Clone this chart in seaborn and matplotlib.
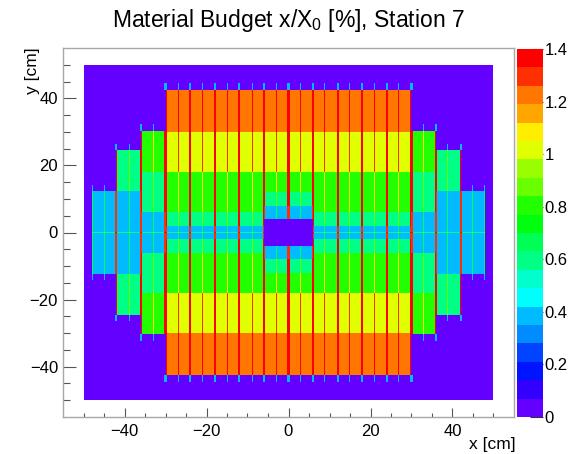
import numpy as np
import pandas as pd
import matplotlib
matplotlib.use('Agg')
import matplotlib.pyplot as plt
import seaborn as sns
from matplotlib.colors import ListedColormap

# ladders of station 7, 6 cm wide, given by their left edge (cm)
ladder_x = [-48, -42, -36, -30, -24, -18, -12, -6, 0, 6, 12, 18, 24, 30, 36, 42]
ladder_kind = ['A', 'B', 'C', 'D', 'D', 'D', 'D', 'E', 'E', 'D', 'D', 'D', 'D', 'C', 'B', 'A']

# sensor bands of each ladder kind: y edges bottom->top (cm) and x/X0 [%] per band
band_y = {
    'A': [-12.25, 12.25],
    'B': [-24.5, -12.25, 12.25, 24.5],
    'C': [-30.25, -18, -6, 6, 18, 30.25],
    'D': [-42.5, -30, -18, -6, -2, 2, 6, 18, 30, 42.5],
    'E': [-42.5, -30, -18, -12, -8, -4, 4, 8, 12, 18, 30, 42.5],
}
band_val = {
    'A': [0.38],
    'B': [0.60, 0.38, 0.60],
    'C': [0.80, 0.60, 0.38, 0.60, 0.80],
    'D': [1.22, 1.00, 0.80, 0.60, 0.38, 0.60, 0.80, 1.00, 1.22],
    'E': [1.22, 1.00, 0.80, 0.60, 0.38, 0.00, 0.38, 0.60, 0.80, 1.00, 1.22],
}

# ladder overlaps (strong lines) and sensor middles (weak lines)
strong_x = [-42, -36, -30, -24, -18, -12, -6, 0, 6, 12, 18, 24, 30, 36, 42]
weak_x = [-48, -45, -39, -33, -27, -21, -15, -9, -3, 3, 9, 15, 21, 27, 33, 39, 45, 48]
strong_add = 0.9
weak_add = 0.3
mid_add = 0.2     # faint line along y = 0
tip_val = 0.4     # line ends sticking out of the sensors
tip_len = 2.0

hist_range = 50
axis_range = 55
bin_w = 0.25
z_max = 1.4

cbar_ticks = [0, 0.2, 0.4, 0.6, 0.8, 1.0, 1.2, 1.4]
cbar_labels = ['0', '0.2', '0.4', '0.6', '0.8', '1', '1.2', '1.4']
axis_ticks = [-40, -20, 0, 20, 40]
minor_ticks = [-50, -45, -35, -30, -25, -15, -10, -5, 5, 10, 15, 25, 30, 35, 45, 50]

# ROOT "pretty" palette, 20 contour levels
palette = ['#6300FF', '#3300FF', '#0014FF', '#0044FF', '#008BFF', '#00BBFF', '#00FFFC',
           '#00FFCC', '#00FF85', '#00FF55', '#00FF0E', '#22FF00', '#69FF00', '#99FF00',
           '#E0FF00', '#FFEE00', '#FFA700', '#FF7700', '#FF3000', '#FF0000']

# build the 2D histogram
edges = np.arange(-axis_range, axis_range + bin_w / 2, bin_w)
xc = (edges[:-1] + edges[1:]) / 2
yc = xc[::-1]
X, Y = np.meshgrid(xc, yc)

Z = np.full(X.shape, np.nan)
Z[(np.abs(X) < hist_range) & (np.abs(Y) < hist_range)] = 0.0

for x0, kind in zip(ladder_x, ladder_kind):
    in_x = (X >= x0) & (X < x0 + 6)
    ys = band_y[kind]
    for lo, hi, v in zip(ys[:-1], ys[1:], band_val[kind]):
        Z[in_x & (Y >= lo) & (Y < hi)] = v

base = Z.copy()


def top_of(x):
    tops = [band_y[k][-1] for x0, k in zip(ladder_x, ladder_kind) if x0 - 0.01 <= x <= x0 + 6.01]
    return max(tops)


for x0 in strong_x + weak_x:
    if x0 in strong_x:
        on_x = np.abs(X - x0) < 0.3
        add = strong_add
    else:
        on_x = np.abs(X - (x0 - np.sign(x0) * 0.125)) < 0.1
        add = weak_add
    top = top_of(x0)
    Z[on_x & (base > 0)] += add
    tip = on_x & (base == 0) & (np.abs(Y) >= top) & (np.abs(Y) < top + tip_len)
    Z[tip] = tip_val

Z[(np.abs(Y) < 0.3) & (base > 0)] += mid_add
Z = np.minimum(Z, z_max - 0.01)

df = pd.DataFrame(Z, index=np.round(yc, 3), columns=np.round(xc, 3))

sns.set_style('white')
plt.rcParams['font.family'] = ['Liberation Sans', 'DejaVu Sans']
plt.rcParams['mathtext.fontset'] = 'custom'
plt.rcParams['mathtext.rm'] = 'Liberation Sans'
plt.rcParams['text.color'] = 'black'

W, H = 577, 454
fig = plt.figure(figsize=(W / 100, H / 100), dpi=100)
ax = fig.add_axes([63 / W, 37 / H, 451 / W, 369 / H])
cax = fig.add_axes([517 / W, 37 / H, 26 / W, 368 / H])

sns.heatmap(df, ax=ax, cbar_ax=cax, cmap=ListedColormap(palette), vmin=0, vmax=z_max,
            xticklabels=False, yticklabels=False)

# ticks in data coordinates -> heatmap cell positions
pos = np.arange(len(xc)) + 0.5


def xpos(v):
    return np.interp(v, xc, pos)


def ypos(v):
    return np.interp(v, yc[::-1], pos[::-1])


ax.set_xticks(xpos(axis_ticks))
ax.set_xticklabels([f'{t:d}'.replace('-', '\u2212') for t in axis_ticks])
ax.set_yticks(ypos(axis_ticks))
ax.set_yticklabels([f'{t:d}'.replace('-', '\u2212') for t in axis_ticks], rotation=0)
ax.set_xticks(xpos(minor_ticks), minor=True)
ax.set_yticks(ypos(minor_ticks), minor=True)
ax.set_xlabel('')
ax.set_ylabel('')

for s in ax.spines.values():
    s.set_visible(True)
    s.set_color('#A8A8A8')
    s.set_linewidth(1)

ax.tick_params(axis='x', which='major', direction='in', length=6.7, width=0.8, color='#555555',
               labelsize=12, labelcolor='black', pad=5, bottom=True, top=False)
ax.tick_params(axis='x', which='minor', direction='in', length=3.2, width=0.8, color='#555555',
               bottom=True, top=False)
ax.tick_params(axis='y', which='major', direction='in', length=9.6, width=0.8, color='#555555',
               labelsize=12, labelcolor='black', pad=3.6, left=True, right=False)
ax.tick_params(axis='y', which='minor', direction='in', length=4.8, width=0.8, color='#555555',
               left=True, right=False)

cbar = ax.collections[0].colorbar
cbar.set_ticks(cbar_ticks)
cbar.set_ticklabels(cbar_labels)
cbar.outline.set_visible(False)
cax.tick_params(direction='in', length=9.5, width=0.8, color='#333333', labelsize=12,
                labelcolor='black', pad=1)

fig.text(288.5 / W, 1 - 26.7 / H, 'Material Budget x/X$_0$ [%], Station 7',
         ha='center', va='baseline', fontsize=16.5, color='black')
fig.text(516 / W, 1 - 444 / H, 'x [cm]', ha='right', va='center', fontsize=12.5, color='black')
fig.text(33 / W, 1 - 47 / H, 'y [cm]', rotation=90, ha='center', va='top', fontsize=12.5,
         color='black')

fig.savefig('out.png', dpi=100)
